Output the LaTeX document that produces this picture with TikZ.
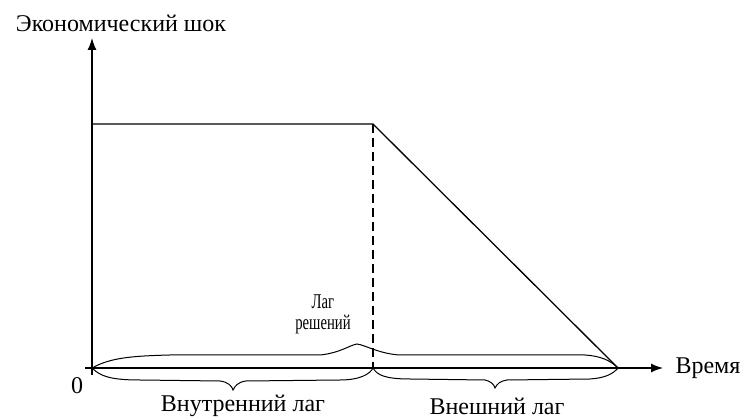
\documentclass[tikz,border=0pt]{standalone}
\usepackage{graphicx}
\usepackage{fontspec}
\setmainfont{Liberation Serif}
\usetikzlibrary{arrows.meta, positioning}

\begin{document}
\begin{tikzpicture}[x=1pt, y=-1pt,
  axis/.style={line width=1.3pt, -{Latex[length=12pt, width=9pt]}},
  curve/.style={line width=1.3pt},
  brace/.style={line width=1pt},
  lbl/.style={font=\fontsize{24}{22}\selectfont, inner sep=0pt},
  lblsmall/.style={font=\fontsize{21}{19}\selectfont, inner sep=0pt}
]
  \useasboundingbox (0,0) rectangle (747,419);

  \coordinate (O)     at (92,368);
  \coordinate (xs)    at (85,368);
  \coordinate (xe)    at (663,368);
  \coordinate (ye)    at (92,38);
  \coordinate (peak)  at (373,124);
  \coordinate (decay) at (373,368);
  \coordinate (stop)  at (618,368);

  \draw[axis] (O |- 0,375) -- (ye);
  \draw[axis] (xs) -- (xe);

  \draw[curve] (O |- peak) -- (peak) -- (stop);
  \draw[curve, dash pattern=on 9pt off 5pt] (peak) -- (decay);

  % decision lag, above the axis
  \draw[brace] (O) .. controls (110,358) and (130,356) .. (170,355)
    -- (320,355) .. controls (340,353) and (350,345) .. (357,344)
    .. controls (365,345) and (380,354) .. (400,355)
    -- (585,355) .. controls (600,356) and (610,360) .. (stop);

  % inner lag, below the axis
  \draw[brace] (O) .. controls (100,376) and (110,380) .. (140,380)
    -- (220,381) .. controls (228,382) and (232,386) .. (233,390)
    .. controls (235,386) and (238,382) .. (246,381)
    -- (340,380) .. controls (360,380) and (370,374) .. (decay);

  % outer lag, below the axis
  \draw[brace] (decay) .. controls (377,375) and (385,379) .. (410,379)
    -- (485,380) .. controls (490,381) and (494,384) .. (495,388)
    .. controls (497,384) and (500,381) .. (507,380)
    -- (590,379) .. controls (605,378) and (613,374) .. (stop);

  \node[lbl] (yname) at (121,23)  {Экономический шок};
  \node[lbl] (xname) at (708,368) {Время};
  \node[lbl] (zero)  at (77,386)  {0};
  \node[lblsmall] (dec) at (323,315)
    {\scalebox{0.7}[1]{\begin{tabular}{@{}c@{}}Лаг\\решений\end{tabular}}};
  \node[lbl] (inner) at (243,406) {Внутренний лаг};
  \node[lbl] (outer) at (497,406) {Внешний лаг};
\end{tikzpicture}
\end{document}
